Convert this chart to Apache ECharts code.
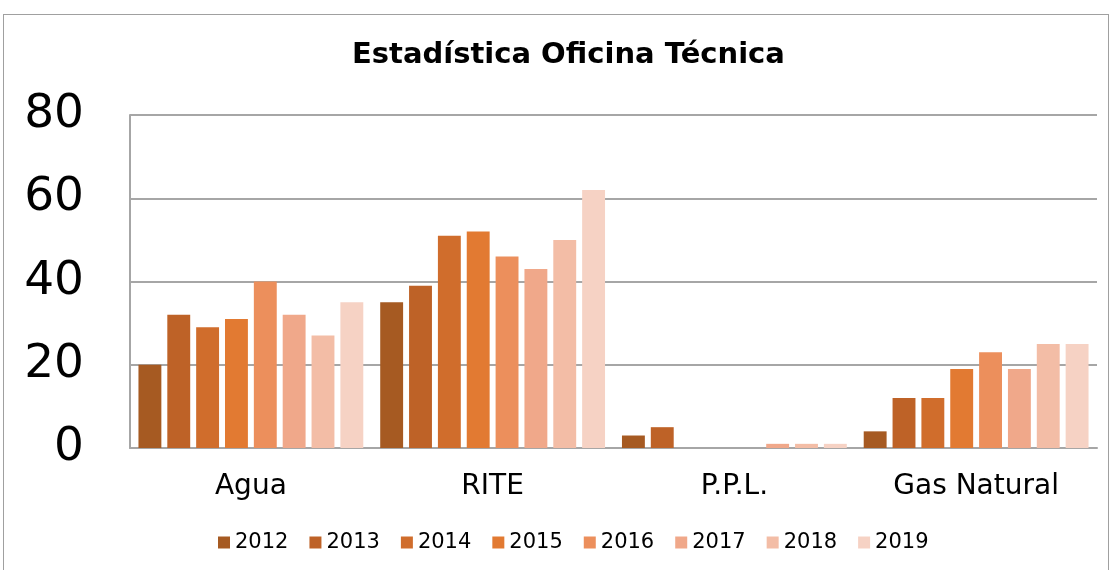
<!DOCTYPE html>
<html>
<head>
<meta charset="utf-8">
<script src="https://cdn.jsdelivr.net/npm/echarts@6/dist/echarts.min.js"></script>
<style>
  html, body { margin: 0; padding: 0; background: #fff; }
  #frame {
    position: absolute; left: 3px; top: 14px; width: 1106px; height: 560px;
    border: 1px solid #a0a0a0; box-sizing: border-box;
  }
  #main { position: absolute; left: 0; top: 0; width: 1112px; height: 570px; }
</style>
</head>
<body>
<div id="frame"></div>
<div id="main"></div>
<script>
// categorias y años
const categories = ["Agua", "RITE", "P.P.L.", "Gas Natural"];
const years = ["2012", "2013", "2014", "2015", "2016", "2017", "2018", "2019"];
// valores por año (uno por categoria)
const v2012 = [20, 35, 3, 4];
const v2013 = [32, 39, 5, 12];
const v2014 = [29, 51, 0, 12];
const v2015 = [31, 52, 0, 19];
const v2016 = [40, 46, 0, 23];
const v2017 = [32, 43, 1, 19];
const v2018 = [27, 50, 1, 25];
const v2019 = [35, 62, 1, 25];
const yearValues = [v2012, v2013, v2014, v2015, v2016, v2017, v2018, v2019];

const colors = ["#A65A22", "#BE6227", "#D06D2C", "#E27A32", "#EC8F5C", "#F0A88A", "#F3BDA6", "#F6D2C4"];

let myChart = echarts.init(document.getElementById("main"));
let option = {
  color: colors,
  title: {
    text: "Estadística Oficina Técnica",
    left: 347,
    top: 36,
    textStyle: { fontFamily: "DejaVu Sans", fontWeight: "bold", fontSize: 29, color: "#000" }
  },
  legend: {
    data: years,
    bottom: 12,
    left: 213,
    itemWidth: 12,
    itemHeight: 12,
    itemGap: 21,
    icon: "rect",
    textStyle: { fontFamily: "DejaVu Sans", fontSize: 21, color: "#000" }
  },
  grid: { left: 130, right: 15, top: 115, bottom: 122 },
  xAxis: {
    type: "category",
    data: categories,
    axisLine: { lineStyle: { color: "#a6a6a6", width: 2 } },
    axisTick: { show: false },
    axisLabel: { fontFamily: "DejaVu Sans", fontSize: 28, color: "#000", margin: 25 }
  },
  yAxis: {
    type: "value",
    min: 0, max: 80, interval: 20,
    axisLine: { show: true, lineStyle: { color: "#a6a6a6", width: 2 } },
    axisTick: { show: false },
    splitLine: { lineStyle: { color: "#a6a6a6", width: 2 } },
    axisLabel: { fontFamily: "DejaVu Sans", fontSize: 47, color: "#000", align: "right", margin: 46 }
  },
  series: years.map((y, i) => ({
    name: y,
    type: "bar",
    data: yearValues[i],
    barGap: "26%",
    barCategoryGap: "7%"
  }))
};
option && myChart.setOption(option);
</script>
</body>
</html>
